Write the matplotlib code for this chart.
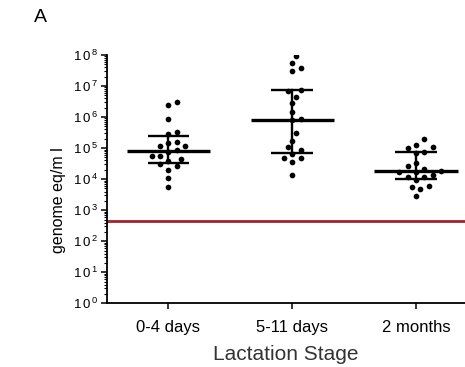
import numpy as np
import matplotlib
matplotlib.use("Agg")
import matplotlib.pyplot as plt
from matplotlib.ticker import FixedLocator, FixedFormatter, LogLocator, NullFormatter

plt.rcParams['font.family'] = ['Liberation Sans', 'DejaVu Sans']
plt.rcParams['mathtext.fontset'] = 'custom'
plt.rcParams['mathtext.rm'] = 'Liberation Sans'

# genome equivalents per ml (log10 values) for each lactation stage
stages = ["0-4 days", "5-11 days", "2 months"]
log_early = [6.38, 6.48, 5.95, 5.44, 5.52, 5.06, 4.93, 4.87, 5.20, 5.17,
             5.06, 4.73, 4.75, 4.65, 4.59, 4.48, 4.42, 4.31, 4.04, 3.75]
log_transitional = [7.98, 7.59, 7.74, 7.49, 6.88, 6.84, 6.66, 6.45, 6.17, 5.89,
                    5.93, 5.48, 5.24, 5.03, 4.94, 4.80, 4.68, 4.54, 4.68, 4.13]
log_mature = [5.29, 5.09, 4.99, 5.03, 4.86, 4.83, 4.51, 4.43, 4.32, 4.24,
              4.24, 4.27, 4.13, 4.07, 4.07, 3.97, 3.74, 3.77, 3.67, 3.46]
# median and interquartile range (log10)
log_median = [4.90, 5.90, 4.25]
log_q1 = [4.51, 4.83, 3.99]
log_q3 = [5.39, 6.87, 4.86]
detection_limit = 450
ytick_exponents = [0, 1, 2, 3, 4, 5, 6, 7, 8]

groups = [log_early, log_transitional, log_mature]

W, H, DPI = 465, 367, 100
fig = plt.figure(figsize=(W / DPI, H / DPI), dpi=DPI)
ax = fig.add_axes([106.5 / W, 63.7 / H, 1 - 106.5 / W, (303.3 - 55) / H])
ax.set_yscale('log')
ax.set_ylim(1, 1e8)
ax.set_xlim(0.5, 3.395)
fig.canvas.draw()


def swarm_offsets(vals, x0, dot_px, step_px):
    """Greedy beeswarm: place each point at the nearest free horizontal slot."""
    pts = ax.transData.transform(np.column_stack([np.full(len(vals), x0),
                                                  10 ** np.asarray(vals)]))
    ys = pts[:, 1]
    order = np.argsort(ys)
    placed = []
    xs_px = np.zeros(len(vals))
    for i in order:
        k = 0
        while True:
            cands = [0] if k == 0 else [k * step_px, -k * step_px]
            ok = None
            for c in cands:
                if all((c - px) ** 2 + (ys[i] - py) ** 2 >= dot_px ** 2 for px, py in placed):
                    ok = c
                    break
            if ok is not None:
                placed.append((ok, ys[i]))
                xs_px[i] = ok
                break
            k += 1
    x_center_px = pts[0, 0]
    inv = ax.transData.inverted()
    data = inv.transform(np.column_stack([x_center_px + xs_px, ys]))
    return data[:, 0]


for i, vals in enumerate(groups):
    x0 = i + 1
    xs = swarm_offsets(vals, x0, dot_px=7.6, step_px=4.2)
    ax.plot(xs, 10 ** np.asarray(vals), 'o', color='black', ms=4.1,
            mec='black', mew=0, zorder=3)
    # median bar
    ax.plot([x0 - 0.336, x0 + 0.336], [10 ** log_median[i]] * 2, color='black',
            lw=2.4, solid_capstyle='butt', zorder=4)
    # interquartile whiskers
    ax.plot([x0, x0], [10 ** log_q1[i], 10 ** log_q3[i]], color='black', lw=1.7, zorder=4)
    for q in (log_q1[i], log_q3[i]):
        ax.plot([x0 - 0.168, x0 + 0.168], [10 ** q] * 2, color='black', lw=1.7,
                solid_capstyle='butt', zorder=4)

ax.axhline(detection_limit, color='#A3222C', lw=2.0, zorder=2)

for s in ('top', 'right'):
    ax.spines[s].set_visible(False)
for s in ('left', 'bottom'):
    ax.spines[s].set_linewidth(1.3)

ax.yaxis.set_major_locator(FixedLocator([10.0 ** e for e in ytick_exponents]))
ax.yaxis.set_major_formatter(FixedFormatter(
    [r'$\mathregular{1\,0^{\,%d}}$' % e for e in ytick_exponents]))
ax.yaxis.set_minor_locator(LogLocator(base=10, subs=np.arange(2, 10), numticks=20))
ax.yaxis.set_minor_formatter(NullFormatter())
ax.tick_params(axis='y', which='major', length=4, width=1.1, labelsize=9.5, pad=2)
ax.tick_params(axis='y', which='minor', length=2.5, width=0.8)

ax.set_xticks([1, 2, 3])
ax.set_xticklabels(stages)
ax.tick_params(axis='x', length=4, width=1.1, labelsize=12, pad=8)

ax.set_xlabel('Lactation Stage', fontsize=15, color='#333333', labelpad=7)

fig.text(58 / W, 1 - 200 / H, 'genome eq/m l', fontsize=11.5, rotation=90,
         va='center', ha='center')
fig.text(40 / W, 1 - 18 / H, 'A', fontsize=14, va='center', ha='center')

fig.savefig('out.png', dpi=DPI)
